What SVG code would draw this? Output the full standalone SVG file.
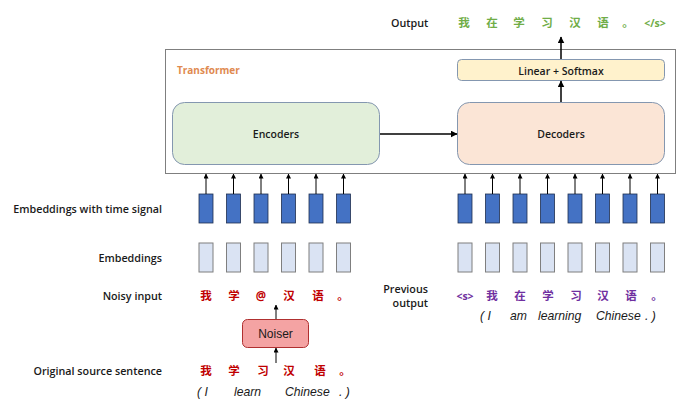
<svg xmlns="http://www.w3.org/2000/svg" width="695" height="417" viewBox="0 0 695 417">
<defs>
<marker id="ah" viewBox="0 0 6 6" refX="5.5" refY="3" markerWidth="5" markerHeight="5" markerUnits="userSpaceOnUse" orient="auto">
<path d="M0,0 L6,3 L0,6 z" fill="#000"/>
</marker>
<marker id="ahb" viewBox="0 0 6 6" refX="5.5" refY="3" markerWidth="7" markerHeight="7" markerUnits="userSpaceOnUse" orient="auto">
<path d="M0,0 L6,3 L0,6 z" fill="#000"/>
</marker>
</defs>
<style>
.lbl{font-family:"Open Sans","Noto Sans","Liberation Sans",sans-serif;font-weight:600;font-size:10.75px;fill:#1a1a1a}
.node{font-family:"Open Sans","Noto Sans","Liberation Sans",sans-serif;font-weight:600;font-size:10.5px;fill:#1a1a1a;text-anchor:middle}
.cjk{font-family:"Noto Sans CJK SC","Open Sans",sans-serif;font-weight:700;font-size:11.5px;text-anchor:middle}
.red{fill:#C00000}
.pur{fill:#7030A0}
.grn{fill:#70AD47}
.eng{font-family:"Liberation Sans","Noto Sans",sans-serif;font-style:italic;font-size:12.2px;fill:#1a1a1a}
.dk{fill:#4472C4;stroke:#1F2F4F;stroke-width:0.8}
.lt{fill:#DAE3F3;stroke:#7F7F7F;stroke-width:1}
.ar{stroke:#000;stroke-width:1;fill:none;marker-end:url(#ah)}
.arb{stroke:#000;stroke-width:1.5;fill:none;marker-end:url(#ahb)}
</style>

<g id="transformer">
<rect x="165.5" y="49.5" width="510" height="124" fill="#fff" stroke="#7F7F7F" stroke-width="1"/>
<text x="177" y="74" font-family="Open Sans,Noto Sans,sans-serif" font-weight="700" font-size="10" fill="#E08A50">Transformer</text>
</g>

<g id="encoders">
<rect x="172.5" y="102.5" width="207" height="62" rx="12" fill="#E2EFDA" stroke="#8497B0" stroke-width="1"/>
<text class="node" x="276" y="138">Encoders</text>
</g>

<g id="decoders">
<rect x="457.5" y="102.5" width="207" height="62" rx="12" fill="#FBE5D6" stroke="#8497B0" stroke-width="1"/>
<text class="node" x="561" y="138">Decoders</text>
</g>

<g id="linear">
<rect x="457.5" y="59.5" width="207" height="21" rx="4" fill="#FFF2CC" stroke="#8497B0" stroke-width="1"/>
<text class="node" x="561" y="74.5">Linear + Softmax</text>
</g>

<g id="noiser">
<rect x="242.5" y="319.5" width="66" height="28" rx="5" fill="#F4A3A3" stroke="#B03030" stroke-width="1"/>
<text x="275.5" y="338" text-anchor="middle" font-family="Liberation Sans,Arial,sans-serif" font-size="12" fill="#1a1a1a">Noiser</text>
</g>

<g id="labels">
<text class="lbl" x="391" y="27">Output</text>
<text class="lbl" x="162" y="213" text-anchor="end">Embeddings with time signal</text>
<text class="lbl" x="162" y="262" text-anchor="end">Embeddings</text>
<text class="lbl" x="162" y="300" text-anchor="end">Noisy input</text>
<text class="lbl" x="162" y="375" text-anchor="end">Original source sentence</text>
<text class="lbl" x="428" y="293" text-anchor="end">Previous</text>
<text class="lbl" x="428" y="307" text-anchor="end">output</text>
</g>

<g id="output-tokens" class="cjk grn">
<text x="464" y="27">我</text>
<text x="492" y="27">在</text>
<text x="519" y="27">学</text>
<text x="547" y="27">习</text>
<text x="575" y="27">汉</text>
<text x="603" y="27">语</text>
<text x="628" y="27">。</text>
<text x="655" y="27" font-family="Open Sans,sans-serif" font-size="10.5">&lt;/s&gt;</text>
</g>

<g id="enc-time-embeddings">
<rect class="dk" x="199" y="194" width="14" height="29"/>
<rect class="dk" x="226.5" y="194" width="14" height="29"/>
<rect class="dk" x="254" y="194" width="14" height="29"/>
<rect class="dk" x="281.5" y="194" width="14" height="29"/>
<rect class="dk" x="309" y="194" width="14" height="29"/>
<rect class="dk" x="336.5" y="194" width="14" height="29"/>
</g>
<g id="dec-time-embeddings">
<rect class="dk" x="458" y="194" width="14" height="29"/>
<rect class="dk" x="485.5" y="194" width="14" height="29"/>
<rect class="dk" x="513" y="194" width="14" height="29"/>
<rect class="dk" x="540.5" y="194" width="14" height="29"/>
<rect class="dk" x="568" y="194" width="14" height="29"/>
<rect class="dk" x="595.5" y="194" width="14" height="29"/>
<rect class="dk" x="623" y="194" width="14" height="29"/>
<rect class="dk" x="650.5" y="194" width="14" height="29"/>
</g>
<g id="enc-embeddings">
<rect class="lt" x="199" y="243" width="14" height="29"/>
<rect class="lt" x="226.5" y="243" width="14" height="29"/>
<rect class="lt" x="254" y="243" width="14" height="29"/>
<rect class="lt" x="281.5" y="243" width="14" height="29"/>
<rect class="lt" x="309" y="243" width="14" height="29"/>
<rect class="lt" x="336.5" y="243" width="14" height="29"/>
</g>
<g id="dec-embeddings">
<rect class="lt" x="458" y="243" width="14" height="29"/>
<rect class="lt" x="485.5" y="243" width="14" height="29"/>
<rect class="lt" x="513" y="243" width="14" height="29"/>
<rect class="lt" x="540.5" y="243" width="14" height="29"/>
<rect class="lt" x="568" y="243" width="14" height="29"/>
<rect class="lt" x="595.5" y="243" width="14" height="29"/>
<rect class="lt" x="623" y="243" width="14" height="29"/>
<rect class="lt" x="650.5" y="243" width="14" height="29"/>
</g>

<g id="noisy-tokens" class="cjk red">
<text x="206" y="300">我</text>
<text x="234" y="300">学</text>
<text x="261" y="300" font-family="Open Sans,sans-serif">@</text>
<text x="289" y="300">汉</text>
<text x="318" y="300">语</text>
<text x="343" y="300">。</text>
</g>

<g id="source-tokens" class="cjk red">
<text x="206" y="375">我</text>
<text x="234" y="375">学</text>
<text x="263" y="375">习</text>
<text x="289" y="375">汉</text>
<text x="320" y="375">语</text>
<text x="345" y="375">。</text>
</g>
<g id="source-english" class="eng">
<text x="197" y="396">( I</text>
<text x="234" y="396">learn</text>
<text x="285" y="396">Chinese</text>
<text x="339" y="396">. )</text>
</g>

<g id="prev-tokens" class="cjk pur">
<text x="465" y="300" font-family="Open Sans,sans-serif" font-size="10.5">&lt;s&gt;</text>
<text x="492" y="300">我</text>
<text x="520" y="300">在</text>
<text x="548" y="300">学</text>
<text x="576" y="300">习</text>
<text x="603" y="300">汉</text>
<text x="631" y="300">语</text>
<text x="657" y="300">。</text>
</g>
<g id="prev-english" class="eng">
<text x="480" y="320">( I</text>
<text x="510" y="320">am</text>
<text x="538" y="320">learning</text>
<text x="596" y="320">Chinese</text>
<text x="645" y="320">. )</text>
</g>

<g id="connectors">
<path class="arb" d="M380,134 H457"/>
<path class="arb" d="M561,102 V81"/>
<path class="arb" d="M561,59 V37"/>
<path class="ar" d="M276,319 V305"/>
<path class="ar" d="M276,363 V348"/>
<path class="ar" d="M206,194 V174"/>
<path class="ar" d="M233.5,194 V174"/>
<path class="ar" d="M261,194 V174"/>
<path class="ar" d="M288.5,194 V174"/>
<path class="ar" d="M316,194 V174"/>
<path class="ar" d="M343.5,194 V174"/>
<path class="ar" d="M465,194 V174"/>
<path class="ar" d="M492.5,194 V174"/>
<path class="ar" d="M520,194 V174"/>
<path class="ar" d="M547.5,194 V174"/>
<path class="ar" d="M575,194 V174"/>
<path class="ar" d="M602.5,194 V174"/>
<path class="ar" d="M630,194 V174"/>
<path class="ar" d="M657.5,194 V174"/>
</g>
</svg>
